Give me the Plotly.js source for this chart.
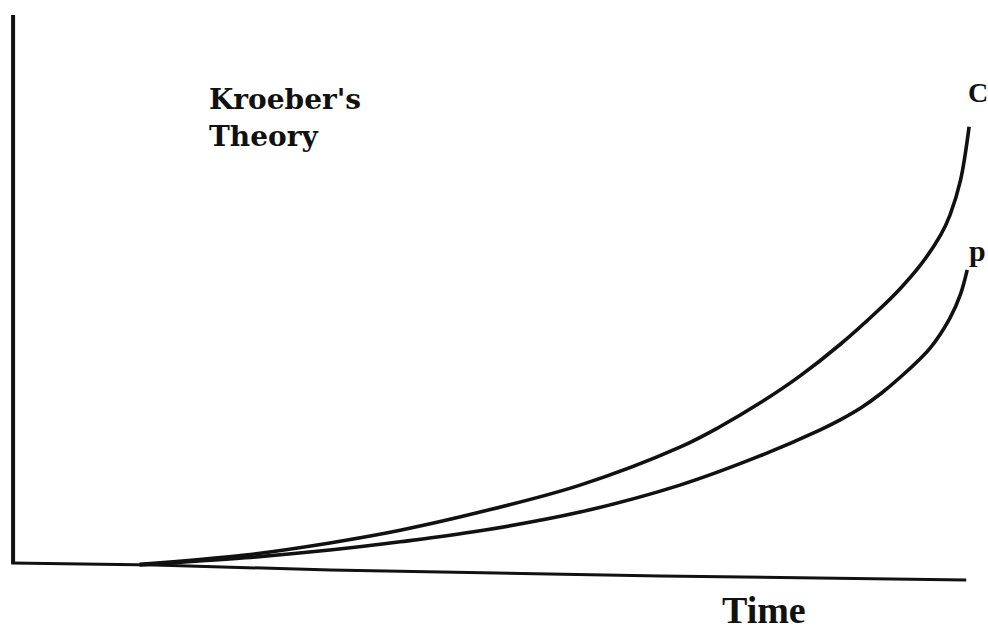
<!DOCTYPE html>
<html>
<head>
<meta charset="utf-8">
<script src="https://cdn.plot.ly/plotly-3.0.1.min.js"></script>
<style>
html,body{margin:0;padding:0;background:#fff;}
#chart{width:988px;height:631px;}
</style>
</head>
<body>
<div id="chart"></div>
<script>
// Time positions (abstract units 0-100) and values for each curve
const timeC   = [13.1, 24.2, 33.1, 40.5, 48.9, 59.4, 69.9, 74.1, 78.3, 82.5, 86.7, 90.9, 93.0, 95.2, 97.3, 98.3, 99.4, 100.3];
const valuesC = [0.2,  1.9,  4.1,  6.4,  9.7,  14.6, 21.5, 25.2, 29.5, 34.4, 40.1, 46.6, 50.2, 54.6, 60.0, 63.7, 70.0, 79.7];
const timeP   = [13.1, 24.2, 33.1, 40.5, 48.9, 59.4, 69.9, 78.3, 84.6, 86.7, 88.9, 91.0, 93.0, 96.2, 98.3, 99.4, 100.1];
const valuesP = [0.1,  1.4,  2.8,  4.3,  6.3,  9.7,  14.6, 19.9, 24.6, 26.4, 28.6, 31.2, 34.1, 39.5, 45.0, 49.3, 53.7];
const curveLabels = ["C", "p"];
const chartTitleLines = ["Kroeber's", "Theory"];
const xAxisLabel = "Time";

const ink = '#111111';
const traces = [
  {x: timeC, y: valuesC, name: curveLabels[0], mode: 'lines',
   line: {color: ink, width: 3.6, shape: 'spline', smoothing: 1}, hoverinfo: 'skip'},
  {x: timeP, y: valuesP, name: curveLabels[1], mode: 'lines',
   line: {color: ink, width: 3.6, shape: 'spline', smoothing: 1}, hoverinfo: 'skip'}
];

const layout = {
  width: 988, height: 631,
  margin: {l: 15, r: 17, t: 15, b: 60, pad: 0},
  paper_bgcolor: '#ffffff', plot_bgcolor: '#ffffff',
  showlegend: false,
  xaxis: {range: [0, 100.5], showgrid: false, zeroline: false, showticklabels: false,
          ticks: '', showline: false, fixedrange: true},
  yaxis: {range: [-1, 100], showgrid: false, zeroline: false, showticklabels: false,
          ticks: '', showline: false, fixedrange: true},
  shapes: [
    {type: 'line', xref: 'paper', yref: 'paper', x0: -0.002, x1: -0.002, y0: 0.0144, y1: 1.0,
     line: {color: ink, width: 4}},
    {type: 'path', xref: 'paper', yref: 'paper',
     path: 'M -0.004,0.0144 L 0.146,0.0108 L 0.330,0.0018 L 0.675,-0.009 L 0.995,-0.0162',
     line: {color: ink, width: 3}}
  ],
  annotations: [
    {xref: 'paper', yref: 'paper', x: 0.201, y: 0.848, xanchor: 'left', yanchor: 'middle',
     text: chartTitleLines[0], showarrow: false,
     font: {family: 'DejaVu Serif', size: 28, color: ink, weight: 'bold'}},
    {xref: 'paper', yref: 'paper', x: 0.201, y: 0.781, xanchor: 'left', yanchor: 'middle',
     text: chartTitleLines[1], showarrow: false,
     font: {family: 'DejaVu Serif', size: 28, color: ink, weight: 'bold'}},
    {xref: 'paper', yref: 'paper', x: 0.783, y: -0.070, xanchor: 'center', yanchor: 'middle',
     text: xAxisLabel, showarrow: false,
     font: {family: 'Liberation Serif', size: 38, color: ink, weight: 'bold'}},
    {xref: 'paper', yref: 'paper', x: 1.0, y: 0.860, xanchor: 'left', yanchor: 'middle', xshift: -5,
     text: curveLabels[0], showarrow: false,
     font: {family: 'Liberation Serif', size: 28, color: ink, weight: 'bold'}},
    {xref: 'paper', yref: 'paper', x: 1.0, y: 0.577, xanchor: 'left', yanchor: 'middle', xshift: -4,
     text: curveLabels[1], showarrow: false,
     font: {family: 'Liberation Serif', size: 30, color: ink, weight: 'bold'}}
  ]
};

Plotly.newPlot('chart', traces, layout, {staticPlot: true, displayModeBar: false});
</script>
</body>
</html>
